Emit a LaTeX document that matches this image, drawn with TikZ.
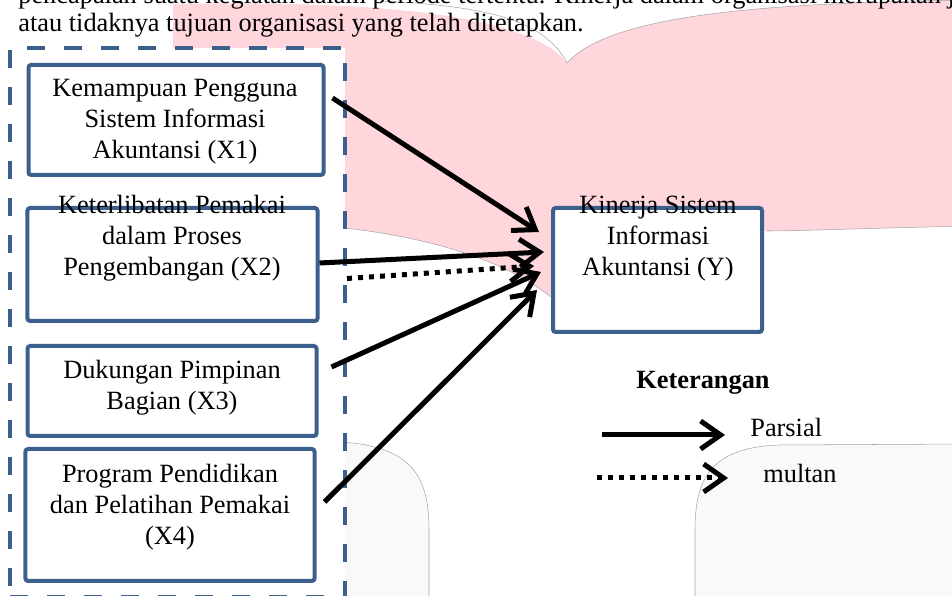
\documentclass[tikz,border=0pt]{standalone}
\usepackage{fontspec}
\setmainfont{Liberation Serif}
\usepackage{xcolor}
\usepackage{tikz}
\usetikzlibrary{arrows.meta}
\definecolor{birutua}{RGB}{60,96,142}
\definecolor{merahmuda}{RGB}{255,214,219}
\definecolor{abumuda}{RGB}{249,249,249}
\definecolor{garisabu}{RGB}{165,165,165}

\tikzset{
  kotak/.style={draw=birutua, line width=0.08cm, fill=white, rounded corners=1.5pt, inner sep=0pt},
  teks/.style={align=center, inner sep=0pt, font=\fontsize{15}{17.6}\selectfont},
  panah/.style={-{Straight Barb[length=0.4cm, width=0.56cm]}, line width=0.1cm},
  panahtitik/.style={panah, dash pattern=on 0.1cm off 0.12cm},
}

\begin{document}
\begin{tikzpicture}
    \useasboundingbox (0,0) rectangle (19.04,11.92);
    \clip (0,0) rectangle (19.04,11.92);

    % bentuk merah muda di belakang
    \fill[merahmuda] (3.46,11.84) .. controls (7.6,11.92) and (10.6,11.62) .. (11.34,10.66)
        .. controls (12.2,11.62) and (15.2,11.86) .. (19.4,11.92) -- (19.4,7.4)
        .. controls (17.5,7.36) and (16,7.3) .. (15.34,7.3)
        .. controls (14,7.22) and (12.8,6.5) .. (11.4,5.62)
        .. controls (10.6,6.52) and (9.0,7.12) .. (6.9,7.36) -- (3.46,7.6) -- cycle;
    \draw[garisabu, line width=0.3pt] (7.6,11.9) .. controls (9.8,11.8) and (10.9,11.5) .. (11.34,10.66)
        .. controls (12.2,11.62) and (15.2,11.86) .. (19.4,11.92);
    \draw[garisabu, line width=0.3pt] (19.4,7.4) .. controls (17.5,7.36) and (16,7.3) .. (15.34,7.3);
    \draw[garisabu, line width=0.3pt] (11.4,5.62) .. controls (10.6,6.52) and (9.0,7.12) .. (6.9,7.36);

    % bentuk abu-abu di bawah
    \filldraw[fill=abumuda, draw=garisabu, line width=0.3pt] (4,3.08) -- (6.8,3.08)
        .. controls (8.3,3.0) and (8.58,2.32) .. (8.58,1.32) -- (8.58,-0.3) -- (4,-0.3) -- cycle;
    \filldraw[fill=abumuda, draw=garisabu, line width=0.3pt] (13.9,-0.3) -- (13.9,1.32)
        .. controls (13.9,2.32) and (14.2,2.98) .. (15.6,3.02) -- (19.4,3.04) -- (19.4,-0.3) -- cycle;

    % teks paragraf
    \node[teks, anchor=base west] (baris1) at (0.36,11.85) {pencapaian suatu kegiatan dalam periode tertentu. Kinerja dalam organisasi merupakan jawaban dari berhasil};
    \node[teks, anchor=base west] (baris2) at (0.36,11.28) {atau tidaknya tujuan organisasi yang telah ditetapkan.};

    % kelompok variabel X
    \node[kotak, sharp corners, dash pattern=on 0.36cm off 0.38cm, minimum width=6.7cm, minimum height=10.98cm] (grup) at (3.55,5.47) {};

    \node[kotak, minimum width=5.9cm, minimum height=2.2cm] (x1) at (3.52,9.52) {};
    \node[teks] (t1) at (3.5,9.48) {Kemampuan Pengguna\\Sistem Informasi\\Akuntansi (X1)};

    \node[kotak, minimum width=5.8cm, minimum height=2.26cm] (x2) at (3.45,6.63) {};
    \node[teks] (t2) at (3.44,7.16) {Keterlibatan Pemakai\\dalam Proses\\Pengembangan (X2)};

    \node[kotak, minimum width=5.78cm, minimum height=1.8cm] (x3) at (3.44,4.10) {};
    \node[teks] (t3) at (3.44,4.17) {Dukungan Pimpinan\\Bagian (X3)};

    \node[kotak, minimum width=5.78cm, minimum height=2.64cm] (x4) at (3.40,1.62) {};
    \node[teks] (t4) at (3.40,1.78) {Program Pendidikan\\dan Pelatihan Pemakai\\(X4)};

    % variabel Y
    \node[kotak, minimum width=4.18cm, minimum height=2.48cm] (y) at (13.15,6.52) {};
    \node[teks] (ty) at (13.16,7.14) {Kinerja Sistem\\Informasi\\Akuntansi (Y)};

    % panah pengaruh
    \draw[panah] ([xshift=0.14cm, yshift=0.44cm]x1.east) -- ([xshift=-0.24cm, yshift=0.76cm]y.west);
    \draw[panah] ([yshift=0.03cm]x2.east) -- ([xshift=-0.14cm, yshift=0.36cm]y.west);
    \draw[panahtitik] ([yshift=0.88cm]grup.east) -- ([xshift=-0.34cm, yshift=0.08cm]y.west);
    \draw[panah] ([xshift=0.26cm, yshift=0.48cm]x3.east) -- ([xshift=-0.2cm, yshift=-0.04cm]y.west);
    \draw[panah] ([xshift=0.16cm, yshift=0.26cm]x4.east) -- ([xshift=-0.28cm, yshift=-0.4cm]y.west);

    % keterangan
    \node[teks, font=\fontsize{15}{17.6}\selectfont\bfseries] (ket) at (14.06,4.26) {Keterangan};
    \coordinate (ps1) at (12.04,3.22);
    \coordinate (ps2) at (14.5,3.22);
    \draw[panah] (ps1) -- (ps2);
    \node[teks, anchor=west] (parsial) at (15.0,3.38) {Parsial};
    \coordinate (pd1) at (11.94,2.36);
    \coordinate (pd2) at (14.56,2.36);
    \draw[panahtitik] (pd1) -- (pd2);
    \node[teks, anchor=west] (multan) at (15.26,2.46) {multan};
\end{tikzpicture}
\end{document}
